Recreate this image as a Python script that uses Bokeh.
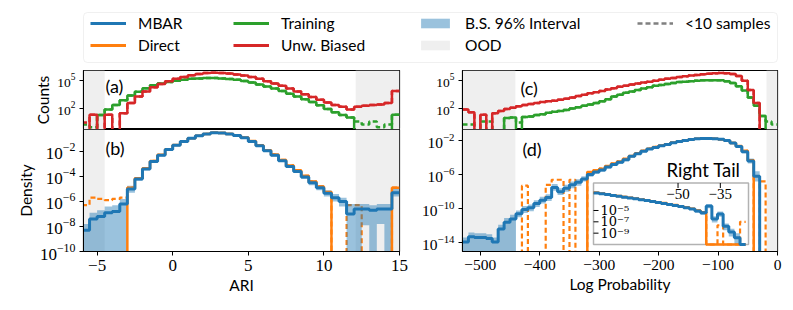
import numpy as np
from bokeh.plotting import figure
from bokeh.models import (Range1d, BoxAnnotation, Legend, LegendItem, FixedTicker,
                          Label, LinearScale, LogScale)
from bokeh.layouts import column, row
from bokeh.embed import file_html
from bokeh.resources import INLINE
from bokeh.core.properties import value

N = None

# ------------------------------------------------------------------ data
# ARI histograms (bins of 0.5), values are log10
ari_edges = np.arange(-6.0, 15.01, 0.5)
ari_training = [0.3, 0.0, 1.3, 1.9, 2.4, 2.9, 3.4, 3.8, 4.2, 4.5, 4.7, 4.85, 5.0, 5.1, 5.2,
                5.25, 5.3, 5.3, 5.25, 5.18, 5.1, 4.98, 4.8, 4.6, 4.38, 4.15, 3.9, 3.6, 3.3,
                3.0, 2.7, 2.35, 1.95, 1.6, 1.3, 1.05, 0.6, 0.3, 0.6, 0.0, 0.3, 1.35]
ari_unw_biased = [0.5, 1.35, N, 1.35, N, 1.5, 2.6, 3.3, 3.85, 4.3, 4.65, 4.95, 5.2, 5.4, 5.6,
                  5.72, 5.82, 5.85, 5.83, 5.78, 5.68, 5.55, 5.4, 5.2, 4.95, 4.7, 4.45, 4.15,
                  3.85, 3.55, 3.25, 2.95, 2.65, 2.4, 2.2, 1.9, 2.2, 2.3, 2.4, 2.45, 2.6, 3.9]
ari_mbar = [-8.3, -7.4, -7.2, -6.9, -6.8, -6.2, -5.0, -4.2, -3.4, -2.8, -2.3, -1.85, -1.5,
            -1.2, -0.95, -0.75, -0.6, -0.5, -0.52, -0.6, -0.72, -0.9, -1.2, -1.55, -1.95,
            -2.3, -2.75, -3.2, -3.6, -4.05, -4.5, -4.9, -5.35, -5.7, -6.0, -7.0, -6.6, -6.6,
            -6.7, -6.6, -6.6, -5.3]
ari_band_lo = [N, N, N, N, N, N, -5.3, -4.35, -3.5, -2.9, -2.4, -1.95, -1.58, -1.27, -1.02,
               -0.82, -0.66, -0.56, -0.58, -0.66, -0.79, -0.98, -1.28, -1.63, -2.03, -2.4,
               -2.85, -3.3, -3.72, -4.2, -4.7, -5.1, -5.6, -6.0, -6.4, N, N, -7.9, N, -7.8,
               N, -5.6]
ari_band_hi = [-7.8, -6.9, -6.7, -6.4, -6.3, -5.8, -4.75, -4.05, -3.3, -2.7, -2.2, -1.75,
               -1.42, -1.13, -0.88, -0.68, -0.54, -0.44, -0.46, -0.54, -0.65, -0.82, -1.12,
               -1.47, -1.87, -2.2, -2.65, -3.1, -3.48, -3.9, -4.3, -4.7, -5.1, -5.4, -5.7,
               -6.2, -6.2, -6.2, -6.3, -6.2, -6.2, -5.0]
ari_direct = [-6.3, -5.7, -5.8, -5.9, -5.8, -5.7, -4.9, -4.15, -3.35, -2.76, -2.27, -1.83,
              -1.49, -1.2, -0.95, -0.75, -0.6, -0.5, -0.52, -0.6, -0.71, -0.88, -1.17, -1.5,
              -1.9, -2.24, -2.68, -3.12, -3.5, -3.95, -4.4, -4.8, -5.25, N, N, -6.3, -6.3,
              N, N, N, N, -4.9]
ari_direct_few = [1, 1, 1, 1, 1, 1, 0, 0, 0, 0, 0, 0, 0, 0, 0, 0, 0, 0, 0, 0, 0, 0, 0, 0,
                  0, 0, 0, 0, 0, 0, 0, 0, 0, 1, 1, 1, 1, 1, 1, 1, 1, 0]
ari_ood = [-4.5, 12.1]
ari_ticks = [-5, 0, 5, 10, 15]

# Log-probability histograms (bins of 10), values are log10
lp_edges = np.arange(-530.0, 0.1, 10.0)
lp_training = [0.3, 0.3, N, 0.6, 0.6, N, N, 1.0, 1.05, 0.5,
               1.1, 1.15, 1.3, 1.4, 1.55, 1.65, 1.75, 1.85, 2.0, 2.15,
               2.3, 2.45, 2.6, 2.8, 3.0, 3.3, 3.5, 3.7, 3.85, 4.0,
               4.15, 4.3, 4.45, 4.55, 4.65, 4.75, 4.85, 4.9, 4.95, 5.0,
               5.05, 5.05, 5.05, 5.05, 4.95, 4.75, 4.4, 3.95, 3.2, 2.3, 1.2, 0.6, 0.3]
lp_unw_biased = [1.9, 1.6, N, 1.35, N, 1.5,
                 1.75, 1.95, 2.1, 2.25, 2.4, 2.5, 2.6, 2.7, 2.8, 2.85, 2.95, 3.05, 3.2, 3.35,
                 3.5, 3.65, 3.75, 3.9, 4.05, 4.2, 4.35, 4.45, 4.6, 4.7,
                 4.8, 4.9, 5.0, 5.1, 5.2, 5.3, 5.4, 5.47, 5.55, 5.62,
                 5.7, 5.75, 5.8, 5.82, 5.8, 5.72, 5.5, 5.0, 4.0, 2.6, N, N, N]
lp_mbar = [-13.9, -13.3, -13.4, -13.4, -13.5, -13.9, -12.4, -11.6, -11.2, -10.6,
           -10.1, -9.9, -9.4, -9.0, -8.7, -7.5, -8.0, -7.6, -7.2, -6.9,
           -6.5, -6.0, -5.7, -5.45, -5.1, -4.8, -4.55, -4.25, -3.85, -3.55,
           -3.25, -3.0, -2.8, -2.6, -2.45, -2.25, -2.1, -1.98, -1.88, -1.8,
           -1.76, -1.75, -1.78, -1.85, -2.0, -2.3, -2.7, -3.3, -4.4, -6.2, N, N, N]
lp_band_lo = [N, N, N, N, N, N, N, N, N,
              -11.0, -10.5, -10.3, -9.8, -9.4, -9.1, -7.9, -8.4, -8.0, -7.6, -7.3,
              -6.8, -6.25, -5.9, -5.65, -5.28, -4.98, -4.72, -4.42, -4.0, -3.7,
              -3.38, -3.12, -2.92, -2.71, -2.55, -2.35, -2.2, -2.08, -1.97, -1.89,
              -1.85, -1.84, -1.87, -1.94, -2.1, -2.42, -2.85, -3.5, -4.7, -6.8, N, N, N]
lp_band_hi = [-13.4, -12.8, -12.9, -12.9, -13.0, -13.4, -11.9, -11.1, -10.7, -10.2,
              -9.7, -9.5, -9.0, -8.6, -8.3, -7.1, -7.6, -7.2, -6.8, -6.55,
              -6.2, -5.75, -5.5, -5.25, -4.92, -4.62, -4.38, -4.08, -3.7, -3.4,
              -3.12, -2.88, -2.68, -2.49, -2.35, -2.15, -2.0, -1.88, -1.79, -1.71,
              -1.67, -1.66, -1.69, -1.76, -1.9, -2.18, -2.55, -3.1, -4.1, -5.6, N, N, N]
lp_direct = [N, N, N, N, N, N, N, N, N, N,
             -7.3, N, N, N, -7.2, -6.6, -6.6, N, -6.6, N, N,
             -5.7, -5.5, -5.3, -5.0, -4.7, -4.45, -4.15, -3.8, -3.5,
             -3.2, -2.95, -2.75, -2.58, -2.42, -2.23, -2.09, -1.97, -1.87, -1.8,
             -1.76, -1.75, -1.78, -1.85, -2.0, -2.28, -2.65, -3.2, -4.3, N, -6.8, N, N]
lp_direct_few = [1, 1, 1, 1, 1, 1, 1, 1, 1, 1, 1, 1, 1, 1, 1, 1, 1, 1, 1, 1, 1,
                 0, 0, 0, 0, 0, 0, 0, 0, 0, 0, 0, 0, 0, 0, 0, 0, 0, 0, 0, 0, 0, 0, 0,
                 0, 0, 0, 0, 0, 1, 1, 1, 1]
lp_ood = [-441.0, -18.5]
lp_ticks = [-500, -400, -300, -200, -100, 0]

# Right-tail inset (bins of 2)
tail_edges = np.arange(-80.0, -25.9, 2.0)
tail_mbar = [-1.9, -2.05, -2.2, -2.35, -2.5, -2.65, -2.8, -2.95, -3.1, -3.25,
             -3.4, -3.6, -3.75, -3.95, -4.1, -4.3, -4.5, -4.75, -5.1, -5.4,
             -4.2, -6.5, -5.6, -7.8, -8.8, -9.8, N]
tail_band_lo = [-2.02, -2.17, -2.32, -2.47, -2.62, -2.77, -2.92, -3.07, -3.22, -3.37,
                -3.52, -3.72, -3.87, -4.07, -4.22, -4.42, -4.65, -4.9, -5.4, -5.8,
                -4.6, -7.1, -6.1, -8.5, -9.6, N, N]
tail_band_hi = [-1.78, -1.93, -2.08, -2.23, -2.38, -2.53, -2.68, -2.83, -2.98, -3.13,
                -3.28, -3.48, -3.63, -3.83, -3.98, -4.18, -4.35, -4.6, -4.85, -5.1,
                -3.9, -6.0, -5.2, -7.3, -8.2, -9.0, N]
tail_direct = [-1.85, -2.0, -2.15, -2.3, -2.45, -2.6, -2.75, -2.9, -3.05, -3.2,
               -3.35, -3.55, -3.7, -3.9, -4.05, -4.25, -4.45, -4.7, -5.0, -5.3,
               N, N, -7.6, N, N, N, -7.0]
tail_direct_few = [0, 0, 0, 0, 0, 0, 0, 0, 0, 0, 0, 0, 0, 0, 0, 0, 0, 0, 0, 0,
                   1, 1, 1, 1, 1, 1, 1]
tail_xlim = [-80.0, -25.0]
tail_ylim_log = [-11.0, -0.15]
tail_xticks = [-50, -35]
tail_yticks_log = [-5, -7, -9]

# ------------------------------------------------------------------ style
BLUE, ORANGE, GREEN, RED = "#1f77b4", "#ff7f0e", "#2ca02c", "#d62728"
OOD_COLOR = "#efefef"
SANS = "Lato"
SERIF = "Liberation Serif"
TINY = 1e-30
DASH = "5 3"


def lin(vals, floor=TINY):
    return np.array([floor if v is None else max(10.0 ** v, floor) for v in vals], dtype=float)


def stairs(edges, y):
    return np.repeat(np.asarray(edges, float), 2)[1:-1], np.repeat(np.asarray(y, float), 2)


def base_fig(w, h, xr, yr, mbl, mbr, mbb, yticks, tick_size):
    p = figure(width=w, height=h, x_range=xr, y_range=yr, y_axis_type="log",
               output_backend="svg", toolbar_location=None,
               min_border_left=mbl, min_border_right=mbr, min_border_top=0,
               min_border_bottom=mbb)
    p.grid.visible = False
    p.outline_line_color = "black"
    p.outline_line_alpha = 1.0
    p.outline_line_width = 1.2
    for ax in p.axis:
        ax.major_tick_in = 0
        ax.major_tick_out = 4
        ax.minor_tick_line_color = None
        ax.axis_line_color = "black"
        ax.major_tick_line_color = "black"
        ax.major_label_text_font = SERIF
        ax.major_label_text_color = "black"
        ax.major_label_text_font_size = tick_size
        ax.major_label_standoff = 4
        ax.axis_label_standoff = 2
        ax.axis_label_text_font = SANS
        ax.axis_label_text_font_style = "normal"
        ax.axis_label_text_color = "black"
        ax.axis_label_text_font_size = "15.5px"
    p.yaxis.ticker = FixedTicker(ticks=yticks)
    return p


def add_ood(p, ood):
    p.add_layout(BoxAnnotation(right=ood[0], fill_color=OOD_COLOR, fill_alpha=1.0,
                               line_alpha=0, level="underlay"))
    p.add_layout(BoxAnnotation(left=ood[1], fill_color=OOD_COLOR, fill_alpha=1.0,
                               line_alpha=0, level="underlay"))


def counts_panel(p, edges, series):
    for vals, col in series:
        c = lin(vals)
        x, y_all = stairs(edges, c)
        _, y_solid = stairs(edges, np.where(c >= 10, c, TINY))
        p.line(x, y_all, line_color=col, line_width=2.5, line_dash=DASH)
        p.line(x, y_solid, line_color=col, line_width=2.5)


def density_panel(p, edges, mbar, lo, hi, direct, few, floor=TINY, **kw):
    d = lin(direct, floor)
    ds = np.where(np.array(few) == 1, floor, d)
    x, y_d = stairs(edges, d)
    _, y_ds = stairs(edges, ds)
    _, y_lo = stairs(edges, lin(lo, floor))
    _, y_hi = stairs(edges, lin(hi, floor))
    _, y_m = stairs(edges, lin(mbar, floor))
    rs = [p.line(x, y_d, line_color=ORANGE, line_width=2.2, line_dash=DASH, **kw),
          p.varea(x=x, y1=y_lo, y2=y_hi, fill_color=BLUE, fill_alpha=0.45, **kw),
          p.line(x, y_ds, line_color=ORANGE, line_width=2.5, **kw),
          p.line(x, y_m, line_color=BLUE, line_width=3, **kw)]
    return rs


def panel_label(p, text, x, y):
    p.add_layout(Label(x=x, y=y, x_units="screen", y_units="screen", text=text,
                       text_font=SANS, text_font_size="18px", text_baseline="middle",
                       text_color="black"))


# ------------------------------------------------------------------ sizes
LW, RW = 408, 377
L_MBL, L_MBR, R_MBL, R_MBR = 83, 9, 54, 8
LEG_W, LEG_H, TOP_H, BOT_H, BOT_MBB = 785, 70, 59, 173, 51
FRAME_H_BOT = BOT_H - BOT_MBB
FRAME_W_R = RW - R_MBL - R_MBR

count_yr = (10 ** -0.25, 10 ** 6.1)

# (a)
fa = base_fig(LW, TOP_H, Range1d(-5.9, 15.0), Range1d(*count_yr), L_MBL, L_MBR, 0,
              [1e2, 1e5], "13.5px")
fa.xaxis.visible = False
fa.yaxis.axis_label = "Counts"
add_ood(fa, ari_ood)
counts_panel(fa, ari_edges, [(ari_training, GREEN), (ari_unw_biased, RED)])
panel_label(fa, "(a)", 22, 44)

# (c)
fc = base_fig(RW, TOP_H, Range1d(-530.0, 0.0), Range1d(*count_yr), R_MBL, R_MBR, 0,
              [1e2, 1e5], "13.5px")
fc.xaxis.visible = False
add_ood(fc, lp_ood)
counts_panel(fc, lp_edges, [(lp_training, GREEN), (lp_unw_biased, RED)])
panel_label(fc, "(c)", 58, 42)

# (b)
fb = base_fig(LW, BOT_H, Range1d(-5.9, 15.0), Range1d(1e-10, 10 ** -0.25), L_MBL, L_MBR,
              BOT_MBB, [1e-10, 1e-8, 1e-6, 1e-4, 1e-2], "17px")
fb.xaxis.ticker = FixedTicker(ticks=ari_ticks)
fb.xaxis.major_label_overrides = {t: str(t).replace("-", "\u2212") for t in ari_ticks}
fb.xaxis.axis_label = "ARI"
fb.yaxis.axis_label = "Density"
add_ood(fb, ari_ood)
density_panel(fb, ari_edges, ari_mbar, ari_band_lo, ari_band_hi, ari_direct, ari_direct_few)
panel_label(fb, "(b)", 22, 104)

# (d)
fd = base_fig(RW, BOT_H, Range1d(-530.0, 0.0), Range1d(10 ** -15.03, 10 ** -0.7), R_MBL,
              R_MBR, BOT_MBB, [1e-14, 1e-10, 1e-6, 1e-2], "15.5px")
fd.xaxis.ticker = FixedTicker(ticks=lp_ticks)
fd.xaxis.major_label_overrides = {t: str(t).replace("-", "\u2212") for t in lp_ticks}
fd.xaxis.axis_label = "Log Probability"
add_ood(fd, lp_ood)
density_panel(fd, lp_edges, lp_mbar, lp_band_lo, lp_band_hi, lp_direct, lp_direct_few)
panel_label(fd, "(d)", 60, 103)

# inset (right tail) drawn through extra ranges of (d)
fx0, fx1 = 131 / FRAME_W_R, 286 / FRAME_W_R
fy0, fy1 = 7 / FRAME_H_BOT, 68.5 / FRAME_H_BOT
xspan = (tail_xlim[1] - tail_xlim[0]) / (fx1 - fx0)
ix0 = tail_xlim[0] - fx0 * xspan
lspan = (tail_ylim_log[1] - tail_ylim_log[0]) / (fy1 - fy0)
ly0 = tail_ylim_log[0] - fy0 * lspan
fd.extra_x_ranges = {"ix": Range1d(ix0, ix0 + xspan)}
fd.extra_y_ranges = {"iy": Range1d(10 ** ly0, 10 ** (ly0 + lspan))}
fd.extra_x_scales = {"ix": LinearScale()}
fd.extra_y_scales = {"iy": LogScale()}
ik = dict(x_range_name="ix", y_range_name="iy")
ibot, itop = 10 ** tail_ylim_log[0], 10 ** tail_ylim_log[1]
fd.add_layout(BoxAnnotation(left=tail_xlim[0], right=tail_xlim[1], bottom=ibot, top=itop,
                            fill_color="white", fill_alpha=1.0, line_color="black",
                            line_width=1.5, level="annotation", **ik))
rs = density_panel(fd, tail_edges, tail_mbar, tail_band_lo, tail_band_hi, tail_direct,
                   tail_direct_few, floor=ibot, **ik)
px_per_dec = FRAME_H_BOT / lspan
x_per_px = xspan / FRAME_W_R
rs.append(fd.segment(x0=tail_xticks, x1=tail_xticks, y0=[itop] * len(tail_xticks),
                     y1=[10 ** (tail_ylim_log[1] - 5 / px_per_dec)] * len(tail_xticks),
                     line_color="black", line_width=1, **ik))
rs.append(fd.text(x=tail_xticks, y=[itop] * len(tail_xticks),
                  text=[str(t).replace("-", "\u2212") for t in tail_xticks],
                  text_font=value(SERIF), text_font_size="15px", text_align="center",
                  text_baseline="top", y_offset=6, text_color="black", **ik))
yt = [10.0 ** v for v in tail_yticks_log]
rs.append(fd.segment(x0=[tail_xlim[0]] * len(yt), x1=[tail_xlim[0] + 5 * x_per_px] * len(yt),
                     y0=yt, y1=yt, line_color="black", line_width=1, **ik))
sup = str.maketrans("-0123456789", "\u207b\u2070\u00b9\u00b2\u00b3\u2074\u2075\u2076\u2077\u2078\u2079")
rs.append(fd.text(x=[tail_xlim[0]] * len(yt), y=yt,
                  text=["10" + str(v).translate(sup) for v in tail_yticks_log],
                  text_font=value("DejaVu Serif"), text_font_size="13px", text_align="left",
                  text_baseline="middle", x_offset=7, text_color="black", **ik))
rs.append(fd.text(x=[tail_xlim[1]], y=[itop], text=["Right Tail"], text_font=value(SANS),
                  text_font_size="18.5px", text_align="right", text_baseline="bottom",
                  x_offset=-8, y_offset=-2, text_color="black", **ik))
for r in rs:
    r.level = "overlay"

# ------------------------------------------------------------------ legend
lf = figure(width=LEG_W, height=LEG_H, x_range=Range1d(0, LEG_W), y_range=Range1d(0, LEG_H),
            output_backend="svg", toolbar_location=None, min_border=0,
            x_axis_location=None, y_axis_location=None)
lf.outline_line_color = None
lf.grid.visible = False
lf.add_layout(BoxAnnotation(left=83, right=777, bottom=8, top=58, fill_color="white",
                            fill_alpha=1.0, line_color="#cccccc", line_width=1,
                            border_radius=4, level="underlay"))
nan = [np.nan]
g_mbar = lf.line(nan, nan, line_color=BLUE, line_width=3)
g_direct = lf.line(nan, nan, line_color=ORANGE, line_width=3)
g_train = lf.line(nan, nan, line_color=GREEN, line_width=3)
g_unw = lf.line(nan, nan, line_color=RED, line_width=3)
g_band = lf.quad(left=nan, right=nan, top=nan, bottom=nan, fill_color=BLUE, fill_alpha=0.45,
                 line_alpha=0)
g_ood = lf.quad(left=nan, right=nan, top=nan, bottom=nan, fill_color=OOD_COLOR,
                fill_alpha=1.0, line_alpha=0)
g_few = lf.line(nan, nan, line_color="gray", line_width=2.5, line_dash=DASH)


def add_legend(items, x, y):
    leg = Legend(items=[LegendItem(label=t, renderers=[r]) for t, r in items],
                 location=(x, y), orientation="vertical", border_line_alpha=0,
                 background_fill_alpha=0, padding=0, margin=0, spacing=4,
                 glyph_width=36, glyph_height=12, label_standoff=12, label_height=18,
                 label_text_font=SANS, label_text_font_size="15.5px",
                 label_text_color="black")
    lf.add_layout(leg)


add_legend([("MBAR", g_mbar), ("Direct", g_direct)], 90, 16)
add_legend([("Training", g_train), ("Unw. Biased", g_unw)], 233, 16)
add_legend([("B.S. 96% Interval", g_band), ("OOD", g_ood)], 417, 16)
add_legend([("<10 samples", g_few)], 637, 38)

layout = column(lf, row(fa, fc), row(fb, fd))
open("out.html", "w").write(file_html(layout, INLINE))
